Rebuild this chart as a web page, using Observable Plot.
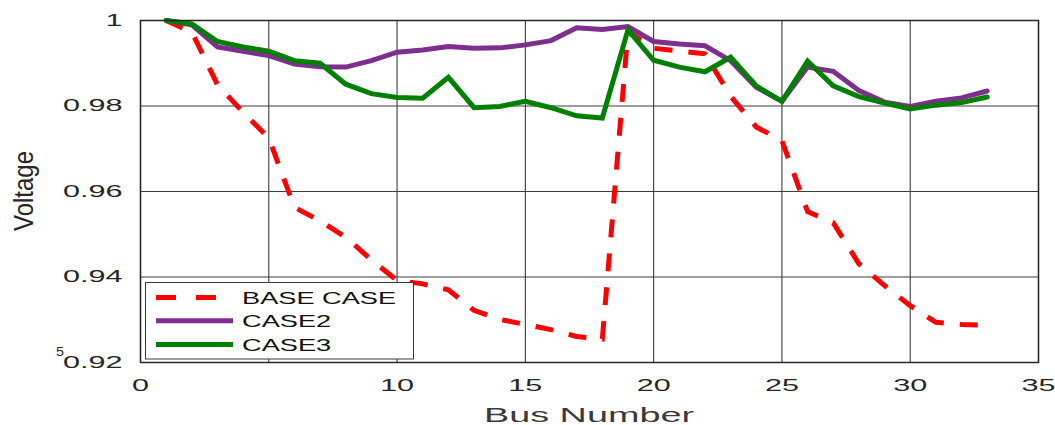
<!DOCTYPE html>
<html>
<head>
<meta charset="utf-8">
<script src="https://cdn.jsdelivr.net/npm/d3@7"></script>
<script src="https://cdn.jsdelivr.net/npm/@observablehq/plot@0.6"></script>
<style>
  html, body { margin: 0; padding: 0; background: #fff; }
  #chart { position: relative; width: 1055px; height: 425px; }
</style>
</head>
<body>
<div id="chart"></div>
<script>
// Bus voltage profile of the 33-bus feeder for three operating cases
const busNumber = [1, 2, 3, 4, 5, 6, 7, 8, 9, 10, 11, 12, 13, 14, 15, 16, 17,
                   18, 19, 20, 21, 22, 23, 24, 25, 26, 27, 28, 29, 30, 31, 32, 33];

const baseCase = [1.0000, 0.9973, 0.9850, 0.9785, 0.9725, 0.9563, 0.9531, 0.9493, 0.9440, 0.9392,
                  0.9384, 0.9370, 0.9322, 0.9301, 0.9289, 0.9277, 0.9261, 0.9255, 0.9974, 0.9935,
                  0.9929, 0.9922, 0.9823, 0.9751, 0.9719, 0.9553, 0.9527, 0.9431, 0.9380, 0.9333,
                  0.9294, 0.9289, 0.9287];

const case2 = [1.0000, 0.9990, 0.9938, 0.9928, 0.9918, 0.9898, 0.9892, 0.9891, 0.9906, 0.9926,
               0.9931, 0.9939, 0.9935, 0.9936, 0.9943, 0.9953, 0.9983, 0.9979, 0.9986, 0.9951,
               0.9945, 0.9941, 0.9906, 0.9844, 0.9811, 0.9891, 0.9881, 0.9836, 0.9809, 0.9799,
               0.9811, 0.9819, 0.9835];

const case3 = [1.0000, 0.9992, 0.9951, 0.9938, 0.9928, 0.9906, 0.9900, 0.9851, 0.9829, 0.9820,
               0.9818, 0.9867, 0.9796, 0.9799, 0.9811, 0.9796, 0.9777, 0.9772, 0.9978, 0.9907,
               0.9891, 0.9880, 0.9914, 0.9847, 0.9811, 0.9905, 0.9847, 0.9822, 0.9807, 0.9793,
               0.9802, 0.9808, 0.9821];

const seriesNames = ["BASE CASE", "CASE2", "CASE3"];
const seriesColors = ["#ff0000", "#7e2f8e", "#008000"];
const seriesValues = [baseCase, case2, case3];

const xGridValues = [0, 5, 10, 15, 20, 25, 30, 35];
const xTickLabels = [0, 10, 15, 20, 25, 30, 35];
const yTickValues = [0.92, 0.94, 0.96, 0.98, 1];

const xLabel = "Bus Number";
const yLabel = "Voltage";

const series = seriesValues.map(vals => busNumber.map((b, i) => ({bus: b, v: vals[i]})));

const fontFamily = "'Liberation Sans', Arial, Helvetica, sans-serif";
const gridColor = "#3c3c3c";

const lineMark = (k, extra) => Plot.line(series[k], {
  x: "bus", y: "v",
  stroke: seriesColors[k], strokeWidth: 5,
  strokeLinejoin: "miter", strokeMiterlimit: 4,
  ...extra
});

const plot = Plot.plot({
  width: 1055,
  height: 425,
  marginLeft: 140,
  marginRight: 17,
  marginTop: 20,
  marginBottom: 63,
  style: {fontFamily, fontSize: "17px", color: "#262626", background: "#ffffff", overflow: "visible"},
  x: {domain: [0, 35], ticks: xTickLabels, tickSize: 0, tickPadding: 16, label: null,
      tickFormat: d => String(d)},
  y: {domain: [0.92, 1], ticks: yTickValues, tickSize: 0, tickPadding: 18, label: null,
      tickFormat: d => String(+d.toFixed(2))},
  marks: [
    Plot.ruleX(xGridValues, {stroke: gridColor, strokeWidth: 1.1}),
    Plot.ruleY(yTickValues, {stroke: gridColor, strokeWidth: 1.1}),
    lineMark(0, {strokeDasharray: "18,16", strokeLinecap: "butt"}),
    lineMark(1, {}),
    lineMark(2, {}),
    Plot.frame({stroke: "#262626", strokeWidth: 1.5})
  ]
});

document.getElementById("chart").appendChild(plot);

const svg = d3.select(plot);

// Wide, stretched lettering for the tick labels
svg.selectAll("g[aria-label='x-axis'] text, g[aria-label='y-axis'] text, g[aria-label='x-axis tick label'] text, g[aria-label='y-axis tick label'] text")
  .each(function () {
    const t = this.getAttribute("transform") || "";
    this.setAttribute("transform", (t + " scale(1.8,1)").trim());
    this.setAttribute("fill", "#262626");
  });

// Axis titles
svg.append("text")
  .attr("transform", "translate(589,422) scale(1.8,1)")
  .attr("text-anchor", "middle")
  .attr("font-family", fontFamily)
  .attr("font-size", 21)
  .attr("fill", "#3a3a3a")
  .text(xLabel);

svg.append("text")
  .attr("transform", "translate(33,191) rotate(-90) scale(1,1.12)")
  .attr("text-anchor", "middle")
  .attr("font-family", fontFamily)
  .attr("font-size", 24)
  .attr("fill", "#262626")
  .text(yLabel);

// Small stray digit beside the lowest y tick
svg.append("text")
  .attr("transform", "translate(60,356) scale(1.2,1)")
  .attr("text-anchor", "middle")
  .attr("font-family", fontFamily)
  .attr("font-size", 12)
  .attr("fill", "#262626")
  .text("5");

// Legend box in the lower-left corner of the axes
const legend = svg.append("g").attr("class", "legend");
legend.append("rect")
  .attr("x", 145.5).attr("y", 282.5)
  .attr("width", 268).attr("height", 76.5)
  .attr("fill", "#ffffff")
  .attr("stroke", "#3a3a3a")
  .attr("stroke-width", 1);

const rowY = [297.5, 320.8, 344.5];
seriesNames.forEach((name, k) => {
  legend.append("line")
    .attr("x1", 156).attr("x2", 233)
    .attr("y1", rowY[k]).attr("y2", rowY[k])
    .attr("stroke", seriesColors[k])
    .attr("stroke-width", 5)
    .attr("stroke-dasharray", k === 0 ? "20,20" : null);
  legend.append("text")
    .attr("transform", `translate(242,${rowY[k]}) scale(1.6,1)`)
    .attr("text-anchor", "start")
    .attr("dy", "0.36em")
    .attr("font-family", fontFamily)
    .attr("font-size", 17)
    .attr("fill", "#111")
    .text(name);
});
</script>
</body>
</html>
